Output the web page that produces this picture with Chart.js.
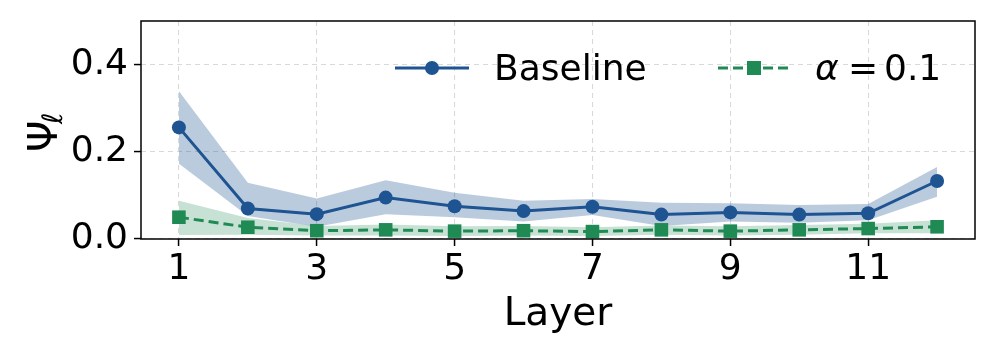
<!DOCTYPE html>
<html>
<head>
<meta charset="utf-8">
<script src="https://cdn.jsdelivr.net/npm/chart.js@4"></script>
<style>
  html, body { margin: 0; padding: 0; background: #fff; }
  #wrap { width: 996px; height: 356px; }
</style>
</head>
<body>
<div id="wrap"><canvas id="chart" width="996" height="356"></canvas></div>
<script>
const layers = [1, 2, 3, 4, 5, 6, 7, 8, 9, 10, 11, 12];
const baseline   = [0.256, 0.070, 0.057, 0.095, 0.075, 0.064, 0.074, 0.056, 0.061, 0.056, 0.059, 0.133];
const baselineLo = [0.173, 0.053, 0.028, 0.057, 0.050, 0.040, 0.055, 0.030, 0.040, 0.037, 0.043, 0.097];
const baselineHi = [0.339, 0.129, 0.093, 0.135, 0.106, 0.088, 0.092, 0.083, 0.082, 0.078, 0.080, 0.165];
const alpha01    = [0.050, 0.027, 0.019, 0.021, 0.018, 0.019, 0.017, 0.021, 0.018, 0.021, 0.024, 0.028];
const alpha01Lo  = [0.009, 0.010, 0.008, 0.008, 0.007, 0.008, 0.007, 0.010, 0.008, 0.010, 0.013, 0.013];
const alpha01Hi  = [0.088, 0.048, 0.030, 0.033, 0.029, 0.030, 0.027, 0.031, 0.029, 0.032, 0.035, 0.043];
const xTicks = [1, 3, 5, 7, 9, 11];
const yTicks = [0, 0.2, 0.4];

const BLUE = 'rgb(30,84,145)';
const GREEN = 'rgb(32,138,84)';
const FONT = '"DejaVu Sans", sans-serif';

const pts = arr => layers.map((x, i) => ({ x, y: arr[i] }));

// frame, axis titles and legend drawn on top
const extras = {
  id: 'extras',
  afterDraw(chart) {
    const { ctx, chartArea: a } = chart;
    ctx.save();
    ctx.strokeStyle = '#000';
    ctx.lineWidth = 1.5;
    ctx.setLineDash([]);
    ctx.strokeRect(a.left, a.top, a.right - a.left, a.bottom - a.top);

    ctx.fillStyle = '#000';
    ctx.textBaseline = 'alphabetic';
    ctx.font = '39px ' + FONT;
    ctx.textAlign = 'center';
    ctx.fillText('Layer', (a.left + a.right) / 2, 325);

    // y title: Psi with subscript ell
    ctx.save();
    ctx.translate(57, 152);
    ctx.rotate(-Math.PI / 2);
    ctx.textAlign = 'left';
    ctx.font = '40px ' + FONT;
    ctx.fillText('Ψ', 0, 0);
    ctx.font = 'italic 28px ' + FONT;
    ctx.fillText('ℓ', 28, 5);
    ctx.restore();

    // legend
    ctx.textAlign = 'left';
    ctx.lineWidth = 3;
    ctx.strokeStyle = BLUE;
    ctx.beginPath(); ctx.moveTo(395, 68); ctx.lineTo(469, 68); ctx.stroke();
    ctx.fillStyle = BLUE;
    ctx.beginPath(); ctx.arc(432, 68, 7, 0, Math.PI * 2); ctx.fill();
    ctx.strokeStyle = GREEN;
    ctx.setLineDash([10, 5]);
    ctx.beginPath(); ctx.moveTo(718, 68); ctx.lineTo(790, 68); ctx.stroke();
    ctx.setLineDash([]);
    ctx.fillStyle = GREEN;
    ctx.fillRect(747, 61, 14, 14);

    ctx.fillStyle = '#000';
    ctx.font = '36px ' + FONT;
    ctx.fillText('Baseline', 494, 80);
    ctx.font = 'italic 36px ' + FONT;
    ctx.fillText('α', 815, 80);
    ctx.font = '36px ' + FONT;
    ctx.fillText('=', 848, 80);
    ctx.fillText('0.1', 884, 80);
    ctx.restore();
  }
};

new Chart(document.getElementById('chart'), {
  type: 'line',
  data: {
    datasets: [
      { label: 'bHi', data: pts(baselineHi), fill: '+1', backgroundColor: 'rgba(30,84,145,0.30)',
        borderWidth: 0, pointRadius: 0, order: 5 },
      { label: 'bLo', data: pts(baselineLo), fill: false, borderWidth: 0, pointRadius: 0, order: 5 },
      { label: 'aHi', data: pts(alpha01Hi), fill: '+1', backgroundColor: 'rgba(32,138,84,0.25)',
        borderWidth: 0, pointRadius: 0, order: 4 },
      { label: 'aLo', data: pts(alpha01Lo), fill: false, borderWidth: 0, pointRadius: 0, order: 4 },
      { label: 'Baseline', data: pts(baseline), borderColor: BLUE, backgroundColor: BLUE,
        borderWidth: 3, pointRadius: 7, pointStyle: 'circle', pointBorderWidth: 0, fill: false, order: 2 },
      { label: 'α = 0.1', data: pts(alpha01), borderColor: GREEN, backgroundColor: GREEN,
        borderWidth: 3, borderDash: [10, 5], pointRadius: 9.6, pointStyle: 'rect', pointBorderWidth: 0,
        fill: false, order: 1 }
    ]
  },
  options: {
    responsive: false,
    animation: false,
    devicePixelRatio: 1,
    layout: { padding: { left: 0, top: 21, right: 21, bottom: 0 } },
    plugins: { legend: { display: false }, tooltip: { enabled: false } },
    elements: { line: { tension: 0 } },
    scales: {
      x: {
        type: 'linear', min: 0.45, max: 12.55,
        afterBuildTicks: s => { s.ticks = xTicks.map(v => ({ value: v })); },
        afterFit: s => { s.height = 117; s.paddingLeft = 0; s.paddingRight = 0; },
        ticks: { color: '#000', font: { family: FONT, size: 36 }, padding: 2, maxRotation: 0,
                 callback: v => String(v) },
        grid: { color: '#d9d9d9', lineWidth: 1.1, tickColor: '#000', tickLength: 7, tickWidth: 1.5 },
        border: { display: false, dash: [5, 4] }
      },
      y: {
        min: 0, max: 0.5,
        afterBuildTicks: s => { s.ticks = yTicks.map(v => ({ value: v })); },
        afterFit: s => { s.width = 141; s.paddingTop = 0; s.paddingBottom = 0; },
        ticks: { color: '#000', font: { family: FONT, size: 36 }, padding: 6,
                 callback: v => v.toFixed(1) },
        grid: { color: '#d9d9d9', lineWidth: 1.1, tickColor: '#000', tickLength: 7, tickWidth: 1.5 },
        border: { display: false, dash: [5, 4] }
      }
    }
  },
  plugins: [extras]
});
</script>
</body>
</html>
